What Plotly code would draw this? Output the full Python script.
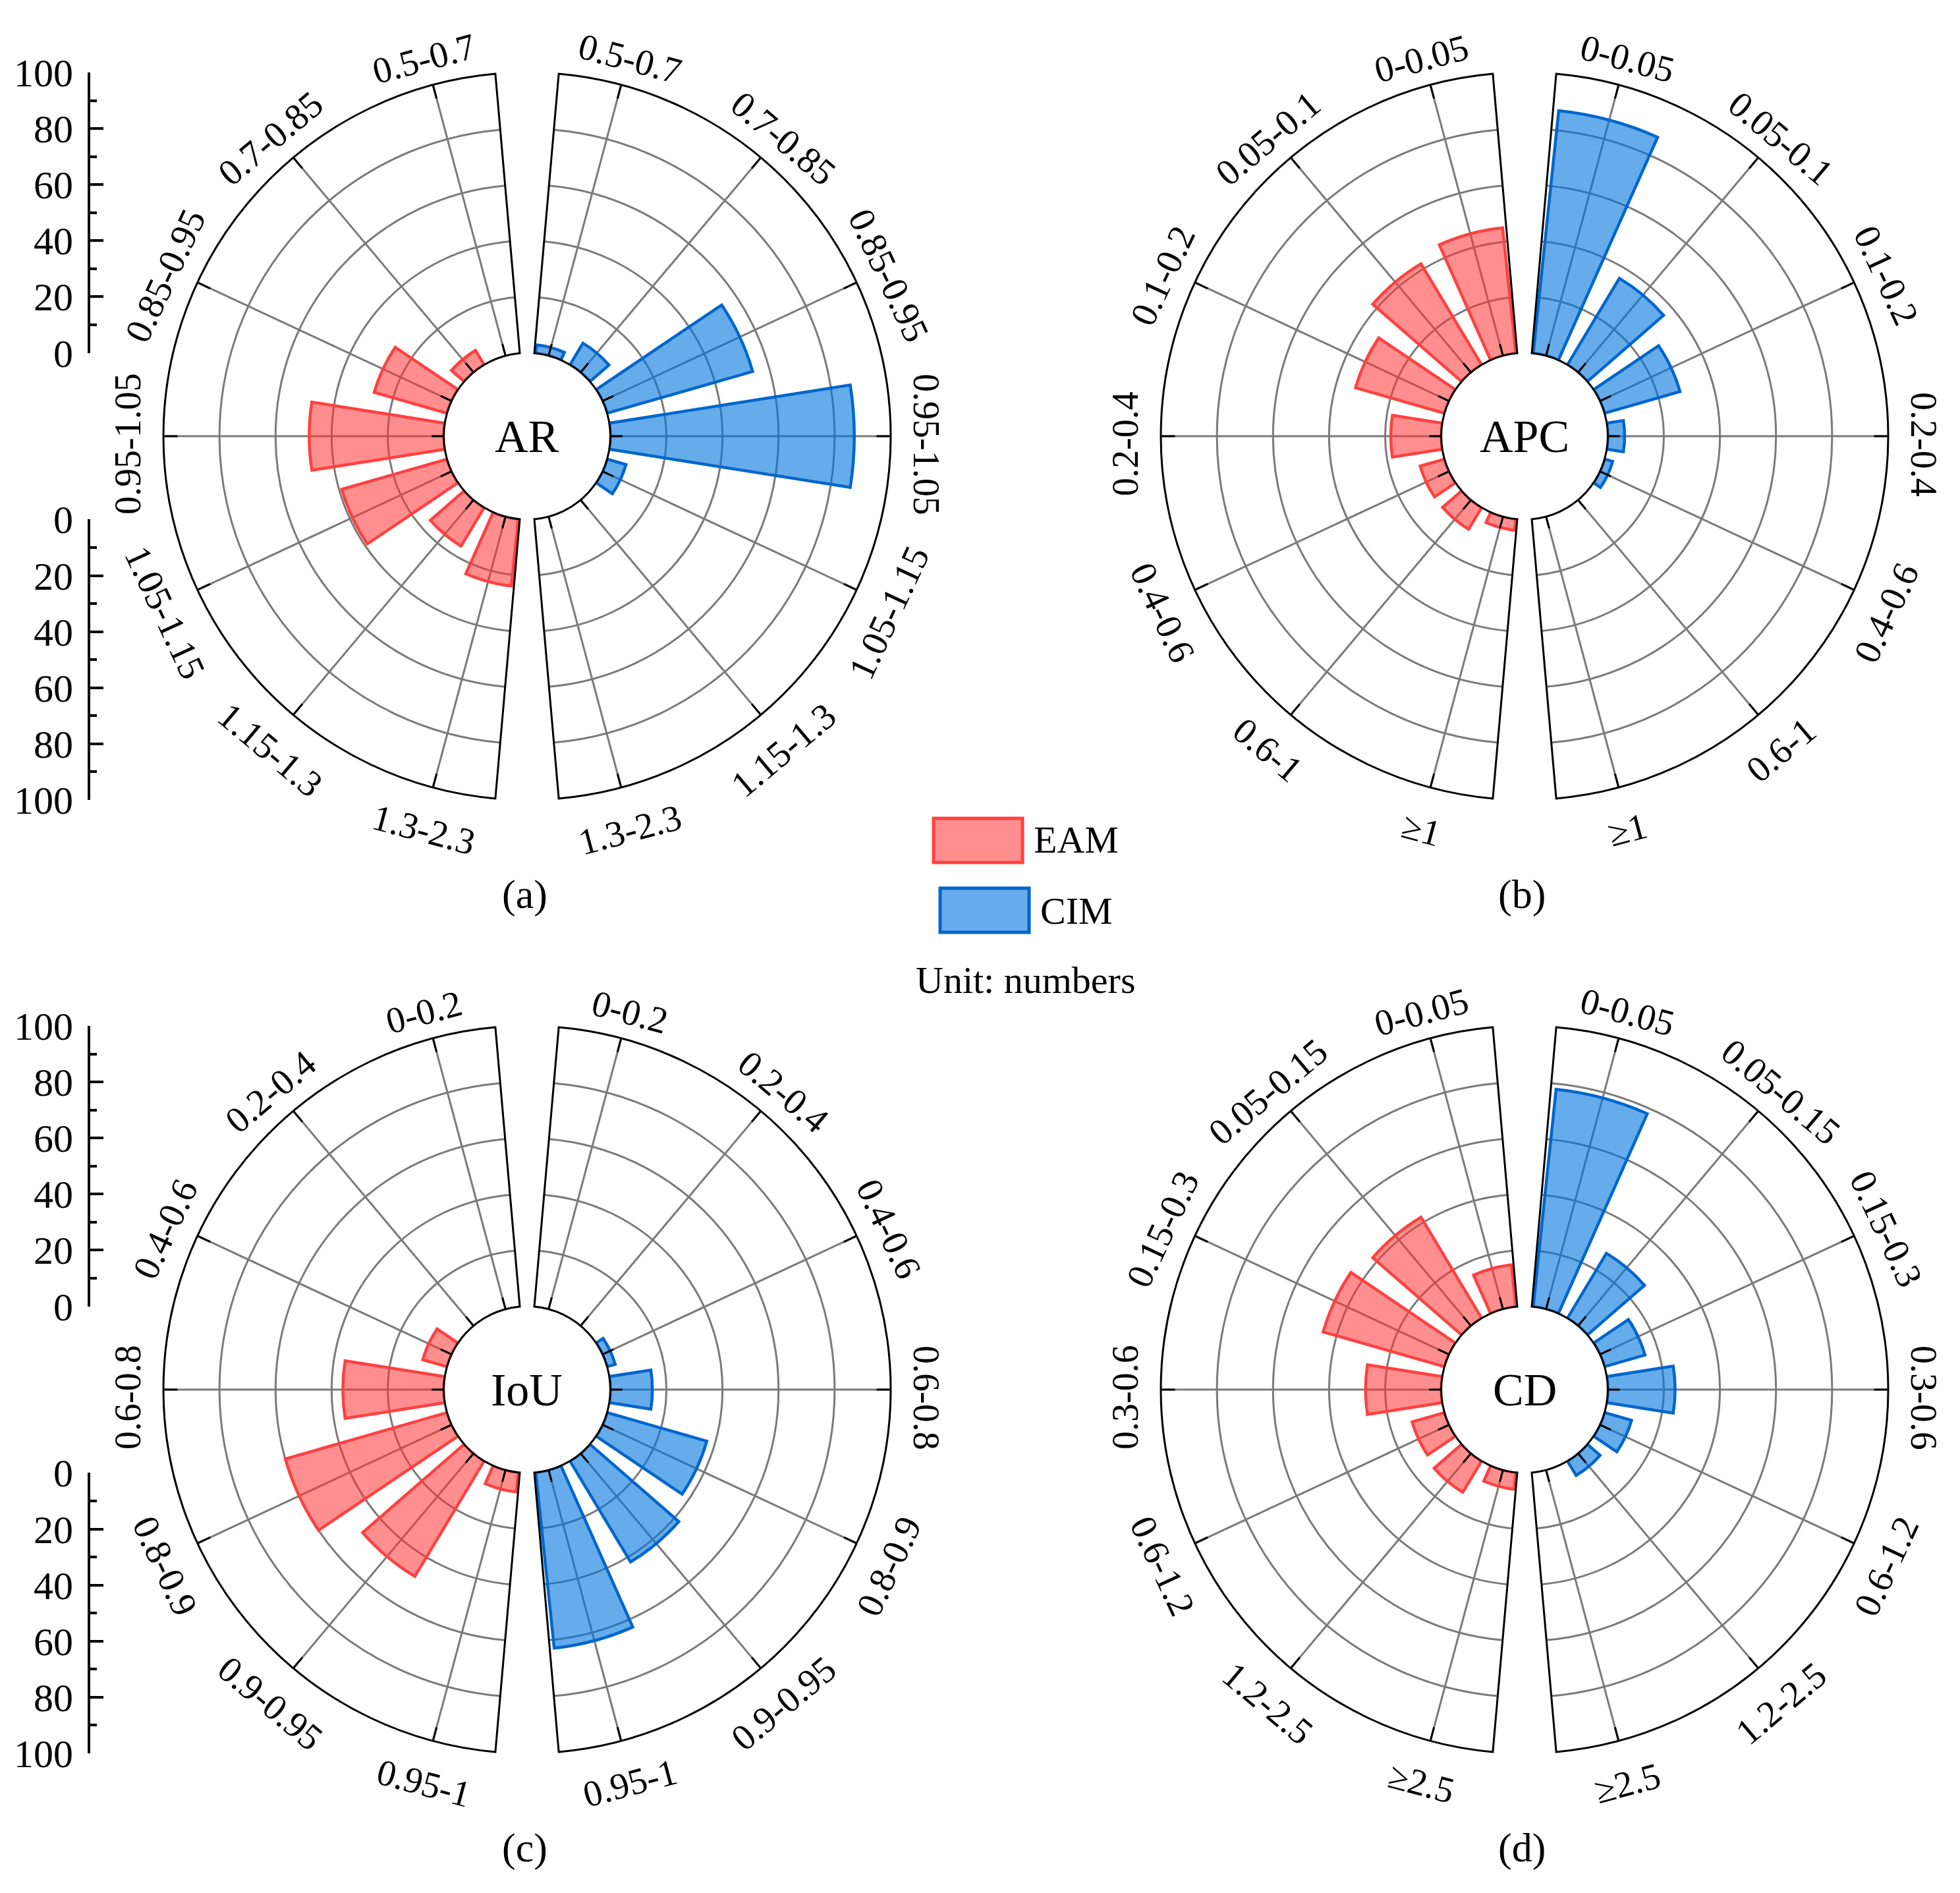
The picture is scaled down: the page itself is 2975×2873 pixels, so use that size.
import math
import plotly.graph_objects as go

W, H = 2975, 2873
FONT = "Liberation Serif"

# ---- data (counts per bin) ----
ar_bins = ["0.5-0.7", "0.7-0.85", "0.85-0.95", "0.95-1.05", "1.05-1.15", "1.15-1.3", "1.3-2.3"]
ar_eam = [0, 6, 27, 48, 39, 16, 24]
ar_cim = [3, 9, 54, 87, 7, 0, 0]

apc_bins = ["0-0.05", "0.05-0.1", "0.1-0.2", "0.2-0.4", "0.4-0.6", "0.6-1", "≥1"]
apc_eam = [45, 42, 33, 18, 9, 9, 4]
apc_cim = [87, 36, 28, 6, 3, 0, 0]

iou_bins = ["0-0.2", "0.2-0.4", "0.4-0.6", "0.6-0.8", "0.8-0.9", "0.9-0.95", "0.95-1"]
iou_eam = [0, 0, 9, 36, 60, 48, 7]
iou_cim = [0, 0, 3, 15, 37, 42, 63]

cd_bins = ["0-0.05", "0.05-0.15", "0.15-0.3", "0.3-0.6", "0.6-1.2", "1.2-2.5", "≥2.5"]
cd_eam = [15, 42, 45, 27, 12, 13, 6]
cd_cim = [78, 27, 15, 24, 10, 6, 0]

radial_ticks = [0, 20, 40, 60, 80, 100]

# ---- styling / geometry ----
R = 552          # outer radius in px
R_IN = 126.4     # hole radius in px
OFF = 8          # page body margin, compensated below
EAM_FILL, EAM_EDGE = "rgba(255,51,51,0.55)", "rgb(255,64,64)"
CIM_FILL, CIM_EDGE = "rgba(0,115,220,0.6)", "rgb(0,102,204)"
GRID = "#7a7a7a"

left_theta = [105 + 25 * i for i in range(7)]
right_theta = [75 - 25 * i for i in range(7)]

panels = [
    dict(name="AR", bins=ar_bins, eam=ar_eam, cim=ar_cim, cx=800, cy=662, tag="(a)", scale=True),
    dict(name="APC", bins=apc_bins, eam=apc_eam, cim=apc_cim, cx=2314, cy=662, tag="(b)", scale=False),
    dict(name="IoU", bins=iou_bins, eam=iou_eam, cim=iou_cim, cx=800, cy=2109, tag="(c)", scale=True),
    dict(name="CD", bins=cd_bins, eam=cd_eam, cim=cd_cim, cx=2314, cy=2109, tag="(d)", scale=False),
]


def px(x):
    return (x - OFF) / W


def py(y):
    return 1 - (y - OFF) / H


fig = go.Figure()
layout = {}
annotations = []
n_polar = 0
n_axis = 0

for p in panels:
    cx, cy = p["cx"], p["cy"]
    halves = [
        (p["eam"], left_theta, [95, 265], [cx - R, cx], EAM_FILL, EAM_EDGE),
        (p["cim"], right_theta, [-85, 85], [cx, cx + R], CIM_FILL, CIM_EDGE),
    ]
    for vals, thetas, sector, xr, fill, edge in halves:
        n_polar += 1
        sp = "polar" if n_polar == 1 else f"polar{n_polar}"
        fig.add_trace(go.Barpolar(
            r=[v if v > 0 else None for v in vals],
            theta=thetas,
            width=18,
            marker=dict(color=fill, line=dict(color=edge, width=4.5)),
            subplot=sp,
            showlegend=False,
        ))
        # short ticks on the inner circle
        tr, tt = [], []
        for t in thetas:
            tr += [0, 4.3, None]
            tt += [t, t, None]
        fig.add_trace(go.Scatterpolar(
            r=tr, theta=tt, mode="lines",
            line=dict(color="black", width=3),
            subplot=sp, showlegend=False, hoverinfo="skip",
        ))
        layout[sp] = dict(
            domain=dict(x=[px(xr[0]), px(xr[1])], y=[py(cy + R), py(cy - R)]),
            sector=sector,
            hole=R_IN / R,
            bgcolor="rgba(0,0,0,0)",
            radialaxis=dict(
                range=[0, 100], tickvals=[20, 40, 60, 80], showticklabels=False,
                ticks="", showline=False, gridcolor=GRID, gridwidth=2.5,
            ),
            angularaxis=dict(
                thetaunit="degrees", direction="counterclockwise", rotation=0,
                tickmode="array", tickvals=thetas, showticklabels=False,
                ticks="inside", ticklen=20, tickwidth=3, tickcolor="black",
                showline=True, linecolor="black", linewidth=3,
                gridcolor=GRID, gridwidth=2.5,
            ),
        )
        # tangential bin labels
        for label, t in zip(p["bins"], thetas):
            a = math.radians(t)
            lx = cx + (R + 54) * math.cos(a)
            ly = cy - (R + 54) * math.sin(a) + 12
            ang = 90 - t
            while ang > 90:
                ang -= 180
            while ang < -90:
                ang += 180
            annotations.append(dict(
                x=px(lx), y=py(ly), xref="paper", yref="paper", text=label,
                textangle=ang, showarrow=False, xanchor="center", yanchor="middle",
                font=dict(family=FONT, size=56, color="black"),
            ))

    # centre name and panel tag
    annotations.append(dict(
        x=px(cx), y=py(cy), xref="paper", yref="paper", text=p["name"],
        showarrow=False, xanchor="center", yanchor="middle",
        font=dict(family=FONT, size=70, color="black"),
    ))
    annotations.append(dict(
        x=px(cx - 4), y=py(cy + 695), xref="paper", yref="paper", text=p["tag"],
        showarrow=False, xanchor="center", yanchor="middle",
        font=dict(family=FONT, size=62, color="black"),
    ))

    # linear count scales on the left (top half and bottom half)
    if p["scale"]:
        for y0, y1, rng in [(cy - R, cy - R_IN, [0, 100]), (cy + R_IN, cy + R, [100, 0])]:
            n_axis += 1
            xa = "xaxis" if n_axis == 1 else f"xaxis{n_axis}"
            ya = "yaxis" if n_axis == 1 else f"yaxis{n_axis}"
            xs = "x" if n_axis == 1 else f"x{n_axis}"
            ys = "y" if n_axis == 1 else f"y{n_axis}"
            fig.add_trace(go.Scatter(x=[None], y=[None], xaxis=xs, yaxis=ys,
                                     showlegend=False, hoverinfo="skip"))
            layout[xa] = dict(domain=[px(137), px(140)], range=[0, 1], visible=False,
                              anchor=ys, automargin=False)
            layout[ya] = dict(
                domain=[py(y1), py(y0)], range=rng, anchor=xs, side="left",
                automargin=False,
                showline=True, linecolor="black", linewidth=4, showgrid=False, zeroline=False,
                tickmode="array", tickvals=radial_ticks,
                ticks="inside", ticklen=20, tickwidth=3.5, tickcolor="black",
                minor=dict(tickvals=[10, 30, 50, 70, 90], ticks="inside", ticklen=10,
                           tickwidth=3.5, tickcolor="black", showgrid=False),
                ticklabelstandoff=10,
                tickfont=dict(family=FONT, size=60, color="black"),
            )

# legend drawn as boxes + text
shapes = [
    dict(type="rect", xref="paper", yref="paper", x0=px(1417), x1=px(1552), y0=py(1309), y1=py(1242),
         fillcolor=EAM_FILL, line=dict(color=EAM_EDGE, width=5)),
    dict(type="rect", xref="paper", yref="paper", x0=px(1427), x1=px(1562), y0=py(1415), y1=py(1348),
         fillcolor=CIM_FILL, line=dict(color=CIM_EDGE, width=5)),
]
for txt, x, y in [("EAM", 1567, 1275), ("CIM", 1577, 1382), ("Unit: numbers", 1388, 1487)]:
    annotations.append(dict(
        x=px(x), y=py(y), xref="paper", yref="paper", text=txt, showarrow=False,
        xanchor="left", yanchor="middle", font=dict(family=FONT, size=58, color="black"),
    ))

fig.update_layout(
    width=W, height=H,
    margin=dict(l=0, r=0, t=0, b=0, pad=0, autoexpand=False),
    paper_bgcolor="white", plot_bgcolor="white",
    font=dict(family=FONT, size=58, color="black"),
    annotations=annotations, shapes=shapes,
    showlegend=False,
    **layout,
)

fig.write_html("out.html")
